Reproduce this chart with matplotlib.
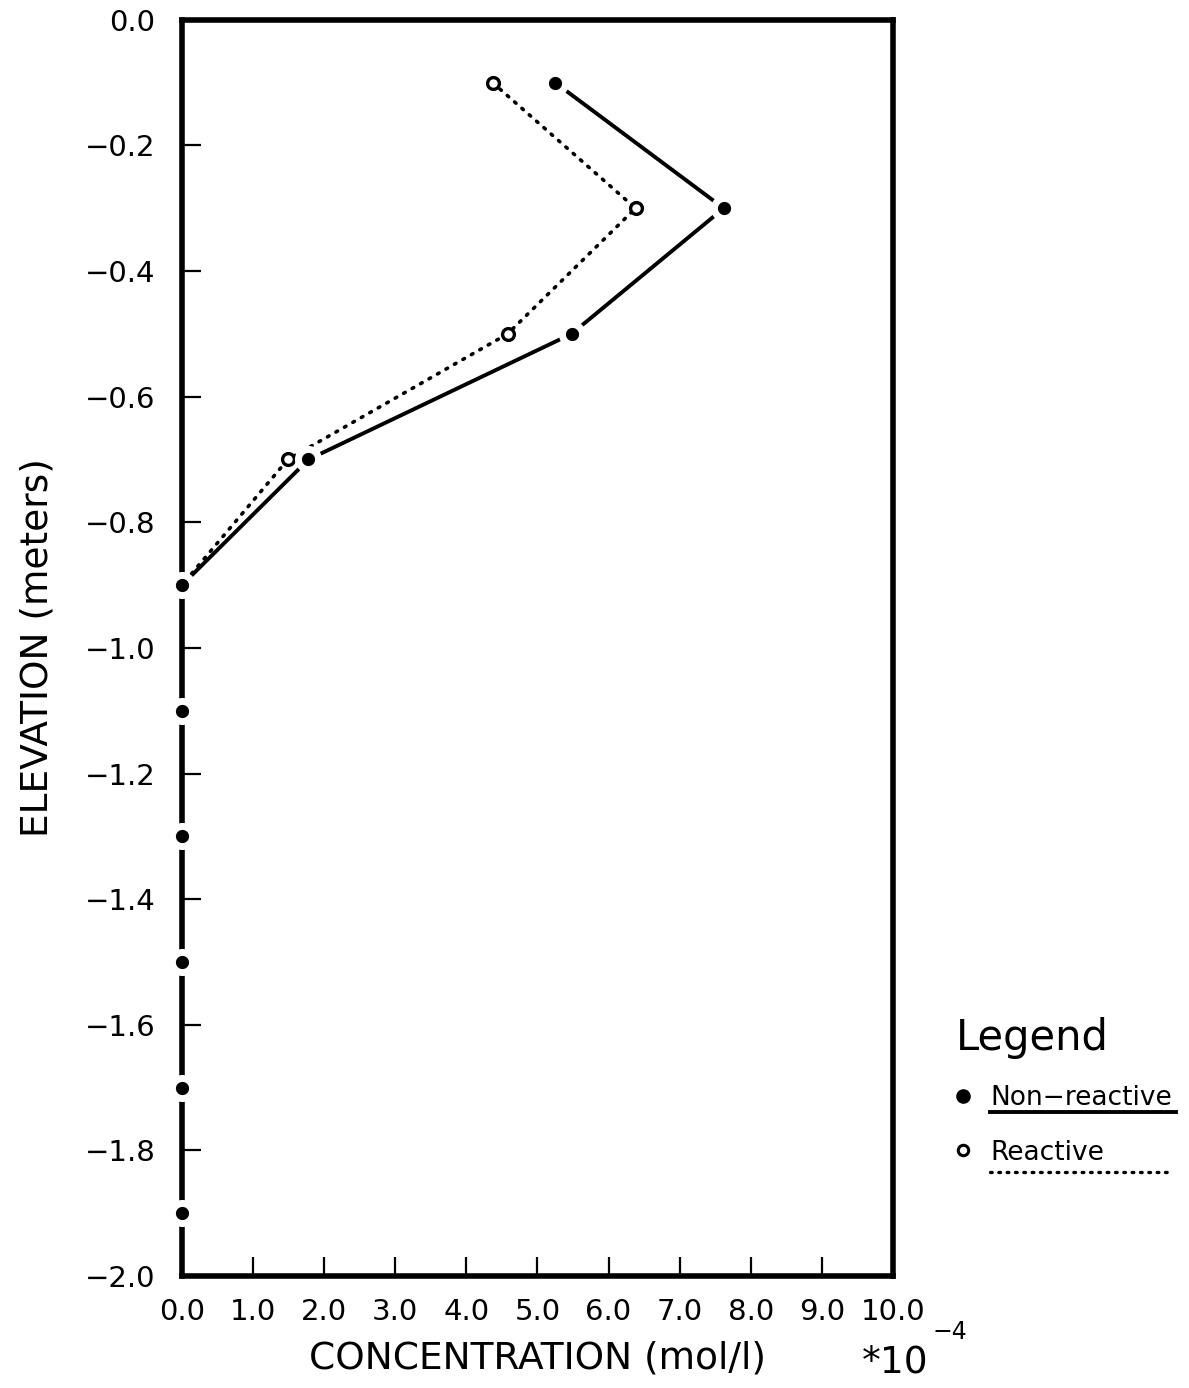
import numpy as np
import matplotlib
matplotlib.use('Agg')
from matplotlib import pyplot as plt
from matplotlib.lines import Line2D

# data (concentration in units of 1e-4 mol/l)
elevation = [-0.1, -0.3, -0.5, -0.7, -0.9, -1.1, -1.3, -1.5, -1.7, -1.9]
nonreactive = [5.25, 7.62, 5.48, 1.78, 0.0, 0.0, 0.0, 0.0, 0.0, 0.0]
reactive = [4.37, 6.38, 4.58, 1.49, 0.0, 0.0, 0.0, 0.0, 0.0, 0.0]

xticks = np.arange(0, 11, 1.0)
yticks = np.arange(-2.0, 0.01, 0.2)

plt.rcParams['font.family'] = ['DejaVu Sans']

fig = plt.figure(figsize=(11.89, 13.88), dpi=100)
ax = fig.add_axes([0.153, 0.0807, 0.598, 0.905])

# reactive (dotted, open circles)
ax.plot(reactive, elevation, color='black', lw=2.6, linestyle=(0, (0.5, 2.2)),
        dash_capstyle='round', zorder=2)
ax.plot(reactive, elevation, linestyle='none', marker='o', ms=8.5,
        mfc='white', mec='black', mew=2.4, zorder=3)

# non-reactive (solid, filled circles with a white halo)
ax.plot(nonreactive, elevation, color='black', lw=2.8, zorder=4)
ax.plot(nonreactive, elevation, linestyle='none', marker='o', ms=14.5,
        mfc='black', mec='white', mew=5.0, zorder=5, clip_on=False)

ax.set_xlim(0, 10)
ax.set_ylim(-2.0, 0.0)
ax.set_xticks(xticks)
ax.set_xticklabels(['%.1f' % t for t in xticks])
ax.set_yticks(yticks)
ax.set_yticklabels([('%.1f' % t).replace('-', '\u2212') if abs(t) > 1e-9 else '0.0'
                    for t in yticks])

for s in ax.spines.values():
    s.set_linewidth(4)
ax.tick_params(direction='in', length=14, width=1.6, labelsize=21,
               top=False, right=False)
ax.tick_params(axis='x', pad=16)
ax.tick_params(axis='y', pad=19)

ax.set_xlabel('CONCENTRATION (mol/l)', fontsize=27, labelpad=10)
ax.set_ylabel('ELEVATION (meters)', fontsize=27, labelpad=21)

fig.text(0.725, 0.0115, '*10', fontsize=27, ha='left')
fig.text(0.784, 0.035, '\u22124', fontsize=17, ha='left')

# legend drawn by hand
fig.text(0.804, 0.2435, 'Legend', fontsize=30)
fig.add_artist(Line2D([0.810], [0.2104], marker='o', ms=9.5, mfc='black',
                      mec='black', transform=fig.transFigure))
fig.text(0.833, 0.204, 'Non\u2212reactive', fontsize=19)
fig.add_artist(Line2D([0.833, 0.989], [0.199, 0.199], color='black', lw=2.8,
                      transform=fig.transFigure))
fig.add_artist(Line2D([0.810], [0.1715], marker='o', ms=7.5, mfc='white',
                      mec='black', mew=2.2, transform=fig.transFigure))
fig.text(0.833, 0.164, 'Reactive', fontsize=19)
fig.add_artist(Line2D([0.833, 0.986], [0.1556, 0.1556], color='black', lw=2.4,
                      linestyle=(0, (0.5, 2.0)), dash_capstyle='round',
                      transform=fig.transFigure))

fig.savefig('out.png', dpi=100)
